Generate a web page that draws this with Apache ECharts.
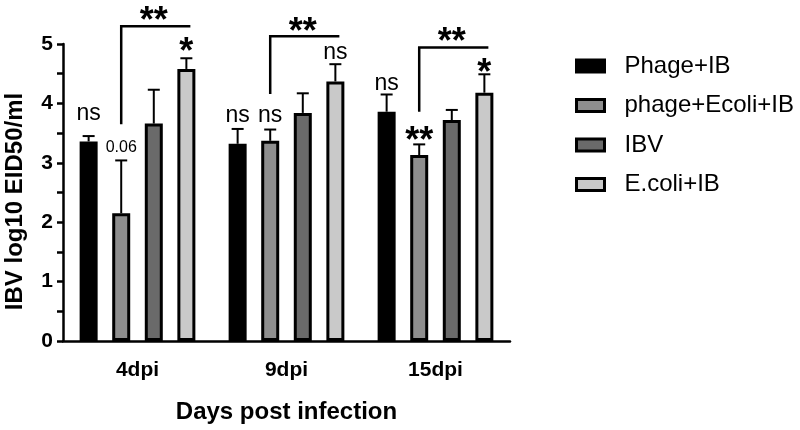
<!DOCTYPE html>
<html>
<head>
<meta charset="utf-8">
<script src="https://cdn.jsdelivr.net/npm/echarts@6/dist/echarts.min.js"></script>
<style>html,body{margin:0;padding:0;background:#fff;}#c{width:800px;height:430px;}</style>
</head>
<body>
<div id="c"></div>
<script>
// ---- data ----
const categories = ['4dpi', '9dpi', '15dpi'];
const seriesNames = ['Phage+IB', 'phage+Ecoli+IB', 'IBV', 'E.coli+IB'];
const phageIB = [3.36, 3.32, 3.86];
const phageEcoliIB = [2.15, 3.37, 3.13];
const ibv = [3.66, 3.84, 3.72];
const ecoliIB = [4.58, 4.37, 4.18];
const errPhageIB = [0.09, 0.25, 0.29];
const errPhageEcoliIB = [0.89, 0.19, 0.18];
const errIBV = [0.57, 0.33, 0.17];
const errEcoliIB = [0.18, 0.29, 0.31];
const sigPhageIB = ['ns', 'ns', 'ns'];
const sigPhageEcoliIB = ['0.06', 'ns', '**'];
const sigIBV = ['', '', ''];
const sigEcoliIB = ['*', 'ns', '*'];
// annotation heights (label centre, in axis units)
const sigLevelPhageIB = [3.85, 3.81, 4.35];
const sigLevelPhageEcoliIB = [3.26, 3.81, 3.52];
const sigLevelIBV = [0, 0, 0];
const sigLevelEcoliIB = [5.01, 4.88, 4.66];
// comparison brackets: [category, fromBar, toBar, lowLevel, topLevel, labelLevel, label]
const brackets = [
  [0, 1, 3, 3.65, 5.30, 5.53, '**'],
  [1, 1, 3, 4.16, 5.13, 5.35, '**'],
  [2, 1, 3, 3.86, 4.94, 5.18, '**']
];
const yTicks = [0, 1, 2, 3, 4, 5];

// ---- styles ----
const FONT = '"Liberation Sans", Arial, Helvetica, sans-serif';
const fills = ['#000000', '#8e8e8e', '#6a6a6a', '#c9c9c9'];
const BAR_W = 18;
const BAR_GAP = 0.81;
const STEP = BAR_W * (1 + BAR_GAP);

const values = [phageIB, phageEcoliIB, ibv, ecoliIB];
const errs = [errPhageIB, errPhageEcoliIB, errIBV, errEcoliIB];
const sigs = [sigPhageIB, sigPhageEcoliIB, sigIBV, sigEcoliIB];
const sigLevels = [sigLevelPhageIB, sigLevelPhageEcoliIB, sigLevelIBV, sigLevelEcoliIB];

function labelStyle(text, x, yc) {
  const isStar = /^\*+$/.test(text);
  const isNum = /^[0-9.]+$/.test(text);
  const fs = isStar ? 36 : (isNum ? 16 : 23);
  return {
    text: text, x: x, y: isStar ? yc + 0.27 * fs : yc + (isNum ? 0 : 0.05 * fs),
    fill: '#000', fontFamily: FONT, fontSize: fs,
    fontWeight: isStar ? 'bold' : 'normal',
    align: 'center', verticalAlign: 'middle'
  };
}

const series = [];
seriesNames.forEach((name, k) => {
  series.push({
    name: name, type: 'bar', data: values[k],
    barWidth: BAR_W, barGap: (BAR_GAP * 100) + '%',
    itemStyle: { color: fills[k], borderColor: '#000', borderWidth: 3 },
    z: 2
  });
});
seriesNames.forEach((name, k) => {
  series.push({
    type: 'custom', clip: false, z: 3, silent: true,
    data: values[k].map((v, i) => [i, v, errs[k][i]]),
    renderItem: function (params, api) {
      const ci = api.value(0), v = api.value(1), e = api.value(2);
      const b = api.coord([ci, v]);
      const t = api.coord([ci, v + e]);
      const x = b[0] + (k - 1.5) * STEP;
      const children = [
        { type: 'line', shape: { x1: x, y1: b[1], x2: x, y2: t[1] }, style: { stroke: '#000', lineWidth: 2 } },
        { type: 'line', shape: { x1: x - 6, y1: t[1], x2: x + 6, y2: t[1] }, style: { stroke: '#000', lineWidth: 2 } }
      ];
      const s = sigs[k][params.dataIndex];
      if (s) {
        const yc = api.coord([ci, sigLevels[k][params.dataIndex]])[1];
        children.push({ type: 'text', style: labelStyle(s, x, yc) });
      }
      return { type: 'group', children: children };
    }
  });
});
series.push({
  type: 'custom', clip: false, z: 3, silent: true,
  data: brackets.map(b => [b[0], b[1], b[2], b[3], b[4], b[5]]),
  renderItem: function (params, api) {
    const ci = api.value(0);
    const c = api.coord([ci, 0])[0];
    const x1 = c + (api.value(1) - 1.5) * STEP;
    const x2 = c + (api.value(2) - 1.5) * STEP;
    const yl = api.coord([ci, api.value(3)])[1];
    const yt = api.coord([ci, api.value(4)])[1];
    const ylab = api.coord([ci, api.value(5)])[1];
    return {
      type: 'group', children: [
        { type: 'polyline', shape: { points: [[x1, yl], [x1, yt], [x2 + 4, yt]] }, style: { stroke: '#000', lineWidth: 2.5, fill: null } },
        { type: 'text', style: labelStyle(brackets[params.dataIndex][6], (x1 + x2) / 2, ylab) }
      ]
    };
  }
});

const chart = echarts.init(document.getElementById('c'), null, { renderer: 'canvas' });
chart.setOption({
  backgroundColor: '#ffffff',
  animation: false,
  textStyle: { fontFamily: FONT },
  grid: { left: 63, top: 44, width: 447, height: 297, containLabel: false, outerBoundsMode: 'none' },
  legend: {
    orient: 'vertical', left: 575, top: 54, padding: 0,
    data: seriesNames, icon: 'rect',
    itemWidth: 28, itemHeight: 12, itemGap: 15.5,
    itemStyle: { borderColor: '#000', borderWidth: 3 },
    textStyle: { fontFamily: FONT, fontSize: 24, color: '#000', padding: [0, 0, 0, 15] }
  },
  xAxis: {
    type: 'category', data: categories,
    name: 'Days post infection', nameLocation: 'middle', nameGap: 59, nameMoveOverlap: false,
    nameTextStyle: { fontFamily: FONT, fontSize: 24, fontWeight: 'bold', color: '#000' },
    axisLine: { lineStyle: { color: '#000', width: 2.5 } },
    axisTick: { alignWithLabel: true, length: 11, lineStyle: { color: '#000', width: 2.5 } },
    axisLabel: { margin: 19, fontFamily: FONT, fontSize: 21, fontWeight: 'bold', color: '#000' },
    splitLine: { show: false }
  },
  yAxis: {
    type: 'value', min: 0, max: 5, interval: 1,
    name: 'IBV log10 EID50/ml', nameLocation: 'middle', nameGap: 36, nameMoveOverlap: false,
    nameTextStyle: { fontFamily: FONT, fontSize: 24, fontWeight: 'bold', color: '#000', padding: [0, 18, 0, 0] },
    axisLine: { show: true, lineStyle: { color: '#000', width: 2.5 } },
    axisTick: { show: true, length: 6, lineStyle: { color: '#000', width: 2.5 } },
    minorTick: { show: true, splitNumber: 2, length: 6, lineStyle: { color: '#000', width: 2.5 } },
    axisLabel: { margin: 10, fontFamily: FONT, fontSize: 21, fontWeight: 'bold', color: '#000',
      formatter: v => yTicks.indexOf(v) >= 0 ? String(v) : '' },
    splitLine: { show: false }
  },
  series: series
});
</script>
</body>
</html>
